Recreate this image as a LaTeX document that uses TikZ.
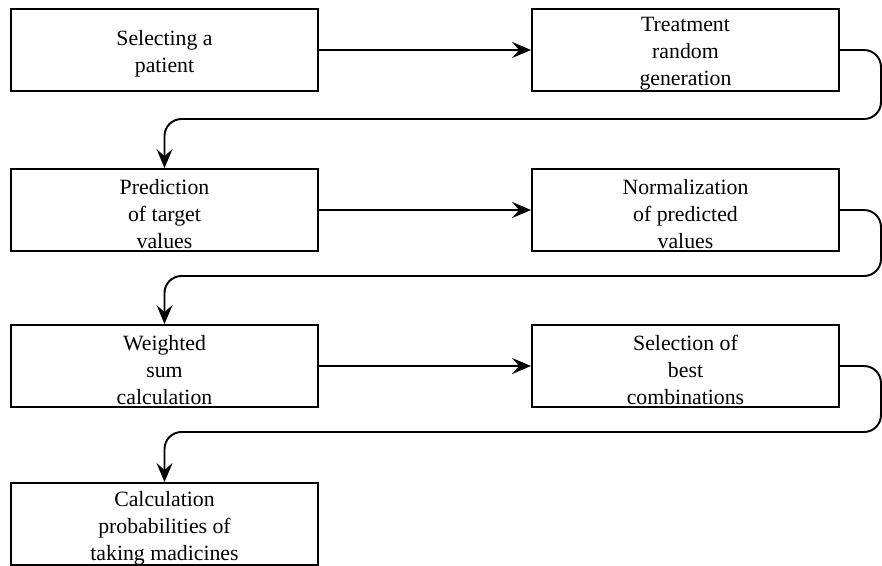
\documentclass[tikz,border=0pt]{standalone}
\usepackage{fontspec}
\setmainfont{Liberation Serif}
\usetikzlibrary{arrows.meta}
\begin{document}
\begin{tikzpicture}[x=0.02cm, y=-0.02cm,
  stepbox/.style={draw, line width=1.1pt, fill=white, inner sep=0pt,
    minimum width=6.14cm, minimum height=1.64cm},
  steptext/.style={inner sep=0pt, align=center,
    font=\fontsize{12.4pt}{15.3pt}\selectfont},
  flow/.style={line width=1.1pt, -{Stealth[length=0.38cm, width=0.32cm, inset=0.14cm]}},
  loop/.style={flow, rounded corners=0.34cm}]
\useasboundingbox (0,0) rectangle (882,565);

% process steps, two columns
\node[stepbox] (b1) at (164.5,50) {};
\node[stepbox] (b2) at (685.5,50) {};
\node[stepbox] (b3) at (164.5,210) {};
\node[stepbox] (b4) at (685.5,210) {};
\node[stepbox] (b5) at (164.5,366) {};
\node[stepbox] (b6) at (685.5,366) {};
\node[stepbox] (b7) at (164.5,524) {};

% their labels, set a little below the box centres
\node[steptext] (t1) at ([yshift=-0.08cm]b1.center) {Selecting a\\patient};
\node[steptext] (t2) at ([yshift=-0.08cm]b2.center) {Treatment\\random\\generation};
\node[steptext] (t3) at ([yshift=-0.08cm]b3.center) {Prediction\\of target\\values};
\node[steptext] (t4) at ([yshift=-0.08cm]b4.center) {Normalization\\of predicted\\values};
\node[steptext] (t5) at ([yshift=-0.08cm]b5.center) {Weighted\\sum\\calculation};
\node[steptext] (t6) at ([yshift=-0.08cm]b6.center) {Selection of\\best\\combinations};
\node[steptext] (t7) at ([yshift=-0.08cm]b7.center) {Calculation\\probabilities of\\taking madicines};

% turning points on the right edge
\coordinate (r1) at (881,119);
\coordinate (r2) at (881,276);
\coordinate (r3) at (881,432);

% connectors
\draw[flow] (b1.east) -- (b2.west);
\draw[loop] (b2.east) -| (r1) -| (b3.north);
\draw[flow] (b3.east) -- (b4.west);
\draw[loop] (b4.east) -| (r2) -| (b5.north);
\draw[flow] (b5.east) -- (b6.west);
\draw[loop] (b6.east) -| (r3) -| (b7.north);
\end{tikzpicture}
\end{document}
